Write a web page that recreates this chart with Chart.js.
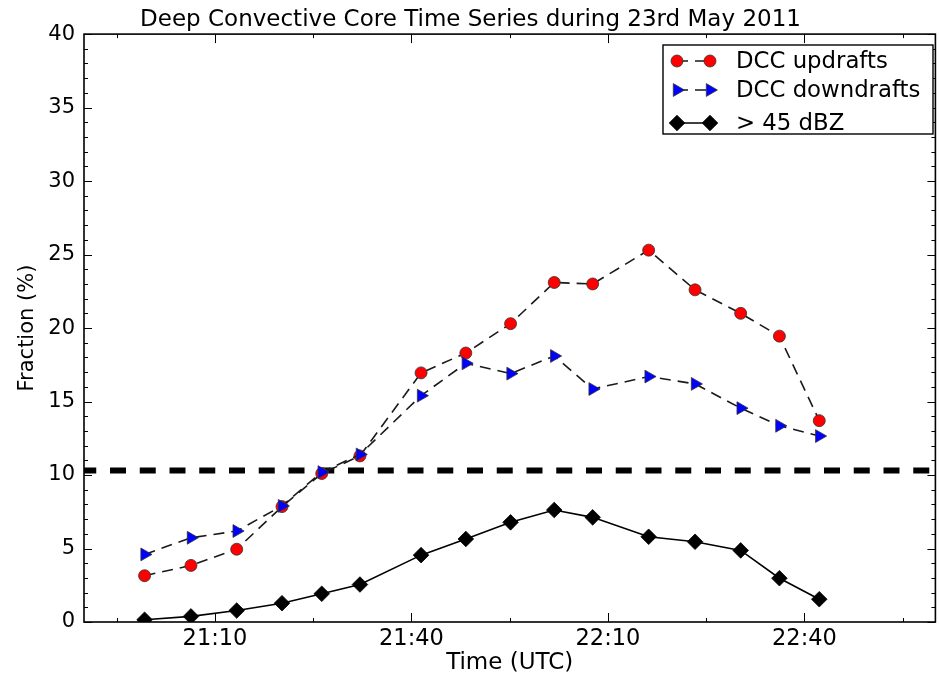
<!DOCTYPE html>
<html>
<head>
<meta charset="utf-8">
<title>Deep Convective Core Time Series</title>
<script src="https://cdn.jsdelivr.net/npm/chart.js@4.4.1/dist/chart.umd.min.js"></script>
<style>
  html, body { margin: 0; padding: 0; background: #fff; overflow: hidden; }
</style>
</head>
<body>
<canvas id="dccChart" width="944" height="675"></canvas>
<script>
// Radar scan times (UTC), 23 May 2011
const scanTimes = [
  "20:59:15", "21:06:20", "21:13:19", "21:20:14", "21:26:18", "21:32:08",
  "21:41:28", "21:48:18", "21:55:08", "22:01:48", "22:07:40", "22:16:13",
  "22:23:18", "22:30:16", "22:36:11", "22:42:16"
];

// Fraction (%) of echo volume per scan
const updraftFraction = [3.15, 3.85, 4.95, 7.85, 10.1, 11.3, 16.95, 18.3, 20.3, 23.1, 23.0, 25.3, 22.6, 21.0, 19.45, 13.7];
const downdraftFraction = [4.6, 5.73, 6.19, 7.9, 10.2, 11.4, 15.4, 17.6, 16.9, 18.1, 15.85, 16.7, 16.2, 14.55, 13.35, 12.65];
const dbzFraction = [0.15, 0.38, 0.78, 1.28, 1.92, 2.55, 4.55, 5.65, 6.78, 7.62, 7.12, 5.8, 5.46, 4.87, 2.98, 1.55];
const thresholdFraction = 10.3;

const seriesLabels = ["DCC updrafts", "DCC downdrafts", "> 45 dBZ"];

// Axis setup
const xRange = ["20:50", "23:00"];
const xLabelTicks = ["21:10", "21:40", "22:10", "22:40"];
const xMinorTicks = ["20:55", "21:25", "21:55", "22:25", "22:55"];
const yRange = [0, 40];
const yStep = 5;

const FONT = "'DejaVu Sans', 'Liberation Sans', sans-serif";

function toMinutes(hms) {
  const [h, m, s] = hms.split(":").map(Number);
  return h * 60 + m + (s || 0) / 60;
}

function clockLabel(v) {
  const h = Math.floor(v / 60);
  const m = Math.round(v - h * 60);
  return h + ":" + String(m).padStart(2, "0");
}

function toPoints(values) {
  return values.map((v, i) => ({ x: toMinutes(scanTimes[i]), y: v }));
}

const xMin = toMinutes(xRange[0]);
const xMax = toMinutes(xRange[1]);

// Axes box with inward tick marks on all four sides
const frameTicks = {
  id: "frameTicks",
  afterDraw(chart) {
    const { ctx, chartArea: a, scales: { x, y } } = chart;
    ctx.save();
    ctx.strokeStyle = "#000";
    ctx.lineWidth = 1;
    ctx.beginPath();
    const xTick = (t, len) => {
      const px = Math.round(x.getPixelForValue(toMinutes(t))) + 0.5;
      ctx.moveTo(px, a.bottom); ctx.lineTo(px, a.bottom - len);
      ctx.moveTo(px, a.top); ctx.lineTo(px, a.top + len);
    };
    xLabelTicks.forEach(t => xTick(t, 9));
    xMinorTicks.forEach(t => xTick(t, 4));
    for (let v = yRange[0]; v <= yRange[1]; v++) {
      const len = v % yStep === 0 ? 8 : 4;
      const py = Math.round(y.getPixelForValue(v)) + 0.5;
      ctx.moveTo(a.left, py); ctx.lineTo(a.left + len, py);
      ctx.moveTo(a.right, py); ctx.lineTo(a.right - len, py);
    }
    ctx.stroke();
    ctx.lineWidth = 1.6;
    ctx.strokeRect(a.left, a.top, a.right - a.left, a.bottom - a.top);
    ctx.restore();
  }
};

// Legend box inside the plot, line sample with a marker at each end
const boxLegend = {
  id: "boxLegend",
  afterDraw(chart) {
    const { ctx } = chart;
    const box = { left: 663, top: 45, right: 933, bottom: 134 };
    const rows = [61, 90, 123];
    ctx.save();
    ctx.fillStyle = "#fff";
    ctx.fillRect(box.left, box.top, box.right - box.left, box.bottom - box.top);
    ctx.strokeStyle = "#000";
    ctx.lineWidth = 1.4;
    ctx.strokeRect(box.left, box.top, box.right - box.left, box.bottom - box.top);

    chart.data.datasets.slice(0, 3).forEach((ds, i) => {
      const yy = rows[i];
      const x0 = 677, x1 = 710;
      ctx.save();
      ctx.strokeStyle = ds.borderColor;
      ctx.lineWidth = ds.borderWidth;
      ctx.setLineDash(ds.borderDash || []);
      ctx.beginPath();
      ctx.moveTo(x0, yy); ctx.lineTo(x1, yy);
      ctx.stroke();
      ctx.restore();
      const style = {
        pointStyle: ds.pointStyle,
        rotation: ds.pointRotation || 0,
        radius: ds.pointRadius,
        borderWidth: ds.pointBorderWidth
      };
      [x0, x1].forEach(px => {
        ctx.fillStyle = ds.pointBackgroundColor;
        ctx.strokeStyle = ds.pointBorderColor;
        ctx.lineWidth = ds.pointBorderWidth;
        Chart.helpers.drawPoint(ctx, style, px, yy);
      });
      ctx.fillStyle = "#000";
      ctx.font = "22.8px " + FONT;
      ctx.textBaseline = "middle";
      ctx.textAlign = "left";
      ctx.fillText(ds.label, 736, yy + 1);
    });
    ctx.restore();
  }
};

const ctx = document.getElementById("dccChart").getContext("2d");
new Chart(ctx, {
  type: "line",
  data: {
    datasets: [
      {
        label: seriesLabels[0],
        data: toPoints(updraftFraction),
        borderColor: "#1a1a1a",
        borderWidth: 1.6,
        borderDash: [11, 7],
        pointStyle: "circle",
        pointRadius: 6,
        pointBackgroundColor: "#ff0000",
        pointBorderColor: "#333",
        pointBorderWidth: 0.8,
        order: 3
      },
      {
        label: seriesLabels[1],
        data: toPoints(downdraftFraction),
        borderColor: "#1a1a1a",
        borderWidth: 1.6,
        borderDash: [11, 7],
        pointStyle: "triangle",
        pointRotation: 90,
        pointRadius: 7.4,
        pointBackgroundColor: "#0000ff",
        pointBorderColor: "#333",
        pointBorderWidth: 0.8,
        order: 2
      },
      {
        label: seriesLabels[2],
        data: toPoints(dbzFraction),
        borderColor: "#000",
        borderWidth: 1.6,
        pointStyle: "rectRot",
        pointRadius: 7.8,
        pointBackgroundColor: "#000",
        pointBorderColor: "#000",
        pointBorderWidth: 0.8,
        order: 1
      },
      {
        label: "threshold",
        data: [{ x: xMin, y: thresholdFraction }, { x: xMax, y: thresholdFraction }],
        borderColor: "#000",
        borderWidth: 6,
        borderDash: [16, 13.75],
        borderDashOffset: 3.75,
        pointRadius: 0,
        order: 4
      }
    ]
  },
  options: {
    responsive: false,
    animation: false,
    layout: { padding: { left: 0, right: 3, top: 0, bottom: 0 } },
    plugins: {
      legend: { display: false },
      tooltip: { enabled: false },
      title: {
        display: true,
        text: "Deep Convective Core Time Series during 23rd May 2011",
        color: "#000",
        font: { family: FONT, size: 23, weight: "normal", lineHeight: 1.2 },
        padding: { top: 6.5, bottom: 0 }
      }
    },
    scales: {
      x: {
        type: "linear",
        min: xMin,
        max: xMax,
        afterBuildTicks: s => { s.ticks = xLabelTicks.map(t => ({ value: toMinutes(t) })); },
        afterFit: s => { s.height = 53; },
        grid: { display: false },
        border: { display: false },
        ticks: {
          callback: v => clockLabel(v),
          color: "#000",
          font: { family: FONT, size: 22.5 },
          padding: -4,
          maxRotation: 0,
          autoSkip: false
        },
        title: {
          display: true,
          text: "Time (UTC)",
          color: "#000",
          font: { family: FONT, size: 23, lineHeight: 1 },
          padding: { top: 0, bottom: 0 }
        }
      },
      y: {
        min: yRange[0],
        max: yRange[1],
        afterFit: s => { s.width = 84; },
        grid: { display: false },
        border: { display: false },
        ticks: {
          stepSize: yStep,
          color: "#000",
          font: { family: FONT, size: 21 },
          padding: 1
        },
        title: {
          display: true,
          text: "Fraction (%)",
          color: "#000",
          font: { family: FONT, size: 21, lineHeight: 1.2 },
          padding: { top: 15, bottom: 0 }
        }
      }
    }
  },
  plugins: [frameTicks, boxLegend]
});
</script>
</body>
</html>
